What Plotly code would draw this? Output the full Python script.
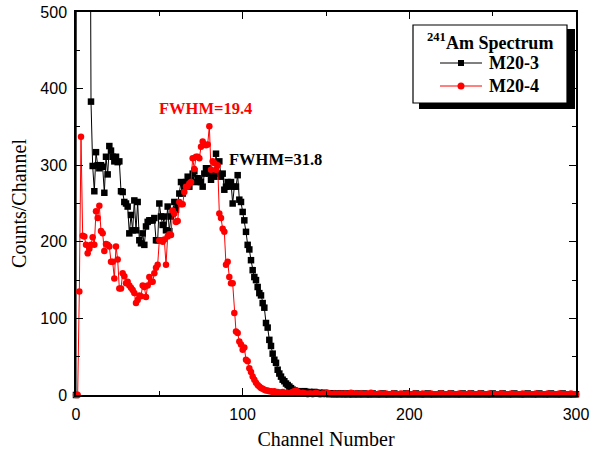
import plotly.graph_objects as go

# ---------------- data ----------------
# M20-3 (black squares), channels 0..135
m20_3_head = [
    0, 3200, 4100, 3900, 3300, 2600, 2000, 1500, 1000, 383,
    299, 266, 317, 300, 296, 300, 298, 264, 311, 288,
    325, 319, 311, 305, 311, 304, 305, 266, 265, 252,
    250, 246, 211, 235, 215, 254, 215, 252, 202, 198,
    211, 196, 220, 226, 228, 228, 228, 231, 202, 202,
    250, 233, 222, 233, 215, 246, 214, 233, 237, 252,
    242, 250, 263, 278, 263, 272, 278, 285, 272, 281,
    289, 292, 278, 283, 281, 278, 272, 289, 296, 296,
    289, 281, 287, 285, 315, 289, 305, 285, 289, 268,
    272, 278, 272, 278, 250, 272, 272, 287, 255, 252,
    239, 228, 213, 196, 190, 176, 163, 154, 150, 141,
    133, 130, 120, 114, 94, 88, 72, 64, 54, 46,
    42, 33, 28, 24, 20, 18, 15, 13, 11, 9,
    7, 6, 5, 5, 4, 4,
]
# M20-3, channels 136..300
m20_3_tail = [
    4, 5, 4, 3, 4, 3, 3, 4, 3, 2, 3, 2, 2, 3, 2, 2, 1, 2, 2, 1,
    1, 2, 1, 2, 1, 1, 2, 1, 1, 2, 1, 1, 1, 2, 1, 1, 1, 2, 1, 1,
    1, 1, 2, 1, 1, 1, 1, 1, 2, 1, 1, 1, 1, 1, 1, 2, 1, 1, 1, 1,
    1, 1, 2, 1, 1, 1, 1, 1, 2, 1, 1, 1, 1, 1, 1, 2, 1, 1, 1, 1,
    1, 1, 1, 2, 1, 1, 1, 1, 1, 2, 1, 1, 1, 1, 1, 1, 2, 1, 1, 1,
    1, 2, 1, 1, 1, 1, 1, 2, 1, 1, 1, 1, 1, 1, 2, 1, 1, 1, 1, 1,
    2, 1, 1, 1, 1, 1, 1, 2, 1, 1, 1, 1, 1, 1, 1, 2, 1, 1, 1, 1,
    1, 1, 2, 1, 1, 1, 1, 1, 1, 2, 1, 1, 1, 1, 1, 1, 2, 1, 1, 1,
    1, 1, 1, 1, 1,
]
# M20-4 (red circles), channels 0..120
m20_4_head = [
    0, 0, 135, 337, 208, 207, 196, 185, 191, 196,
    206, 196, 240, 231, 247, 214, 211, 188, 197, 196,
    194, 174, 174, 152, 194, 177, 139, 139, 159, 155,
    146, 148, 143, 140, 137, 133, 120, 124, 130, 129,
    143, 141, 128, 143, 154, 148, 148, 159, 166, 170,
    202, 202, 200, 203, 170, 207, 210, 209, 241, 237,
    226, 227, 252, 249, 249, 265, 272, 272, 276, 278,
    309, 295, 311, 311, 309, 324, 331, 327, 326, 327,
    351, 294, 305, 303, 294, 300, 237, 231, 217, 213,
    170, 174, 154, 146, 146, 107, 83, 81, 70, 66,
    59, 62, 46, 44, 35, 30, 24, 20, 16, 13,
    11, 9, 8, 7, 6, 6, 5, 5, 4, 5,
    3,
]
# M20-4, channels 121..300
m20_4_tail = [
    4, 3, 3, 4, 2, 3, 2, 2, 3, 4, 5, 6, 4, 3, 2, 3, 2, 2, 1, 2,
    2, 1, 2, 3, 2, 1, 1, 2, 1, 2, 3, 2, 1, 1, 2, 1, 1, 2, 1, 1,
    2, 1, 1, 2, 3, 1, 1, 2, 1, 1, 2, 1, 1, 1, 2, 1, 3, 1, 1, 1,
    1, 2, 1, 1, 1, 2, 1, 1, 1, 2, 1, 1, 1, 1, 2, 1, 1, 1, 2, 1,
    1, 1, 2, 1, 1, 1, 1, 2, 1, 1, 1, 1, 2, 1, 1, 1, 1, 1, 2, 1,
    1, 1, 1, 2, 1, 1, 1, 1, 1, 2, 1, 1, 1, 1, 1, 2, 1, 1, 1, 1,
    1, 2, 1, 1, 1, 1, 1, 2, 1, 1, 1, 1, 1, 1, 2, 1, 1, 1, 1, 1,
    2, 1, 1, 1, 1, 1, 1, 2, 1, 1, 1, 1, 1, 1, 1, 2, 1, 1, 1, 1,
    1, 1, 2, 1, 1, 1, 1, 1, 1, 2, 1, 1, 1, 1, 1, 1, 2, 1, 1, 1,
]

m20_3 = m20_3_head + m20_3_tail
m20_4 = m20_4_head + m20_4_tail
ch_3 = list(range(len(m20_3)))
ch_4 = list(range(len(m20_4)))

x_ticks = [0, 100, 200, 300]
y_ticks = [0, 100, 200, 300, 400, 500]

series_names = ["M20-3", "M20-4"]
legend_title = "<sup>241</sup>Am Spectrum"
fwhm_labels = ["FWHM=19.4", "FWHM=31.8"]

# ---------------- figure ----------------
SERIF = "Liberation Serif, Times New Roman, serif"
SANS = "Liberation Sans, Arial, sans-serif"

fig = go.Figure()
fig.add_trace(go.Scatter(
    x=ch_3, y=m20_3, mode="lines+markers", name=series_names[0],
    line=dict(color="black", width=1),
    marker=dict(symbol="square", size=6.5, color="black"),
    cliponaxis=False, showlegend=False))
fig.add_trace(go.Scatter(
    x=ch_4, y=m20_4, mode="lines+markers", name=series_names[1],
    line=dict(color="#ff0000", width=1),
    marker=dict(symbol="circle", size=6.5, color="#ff0000"),
    cliponaxis=False, showlegend=False))

axis_common = dict(
    showline=True, linecolor="black", linewidth=1.5, mirror="allticks",
    ticks="inside", ticklen=7, tickwidth=1.2, tickcolor="black",
    showgrid=False, zeroline=False, automargin=False,
    tickfont=dict(family=SANS, size=16, color="black"),
    minor=dict(ticks="inside", ticklen=4, tickwidth=1.2, tickcolor="black"),
)

fig.update_xaxes(range=[0, 300], tickvals=x_ticks, minor_dtick=50, ticklabelstandoff=4,
                 title=dict(text="Channel Number", font=dict(family=SERIF, size=20, color="black"),
                            standoff=10),
                 **axis_common)
fig.update_yaxes(range=[0, 500], tickvals=y_ticks, minor_dtick=50, ticklabelstandoff=4,
                 title=dict(text="Counts/Channel", font=dict(family=SERIF, size=20, color="black"),
                            standoff=8),
                 **axis_common)

W, H = 592, 450
L, R, T, B = 76, 16, 12, 55
pw, ph = W - L - R, H - T - B


def px(x):
    return (x - L) / pw


def py(y):
    return (H - B - y) / ph


shapes = []
# legend shadow + box
shapes.append(dict(type="rect", xref="paper", yref="paper",
                   x0=px(419), x1=px(575), y0=py(109), y1=py(29),
                   fillcolor="black", line=dict(width=0), layer="above"))
shapes.append(dict(type="rect", xref="paper", yref="paper",
                   x0=px(413), x1=px(567), y0=py(103), y1=py(25),
                   fillcolor="white", line=dict(color="black", width=1.2), layer="above"))
# legend sample lines
shapes.append(dict(type="line", xref="paper", yref="paper",
                   x0=px(440), x1=px(482), y0=py(63), y1=py(63),
                   line=dict(color="black", width=1), layer="above"))
shapes.append(dict(type="line", xref="paper", yref="paper",
                   x0=px(440), x1=px(482), y0=py(86), y1=py(86),
                   line=dict(color="#ff0000", width=1), layer="above"))
# legend sample markers
shapes.append(dict(type="rect", xref="paper", yref="paper",
                   x0=px(458), x1=px(464), y0=py(66), y1=py(60),
                   fillcolor="black", line=dict(width=0), layer="above"))
shapes.append(dict(type="circle", xref="paper", yref="paper",
                   x0=px(457.5), x1=px(464.5), y0=py(89.5), y1=py(82.5),
                   fillcolor="#ff0000", line=dict(width=0), layer="above"))

annotations = [
    dict(text="<b>" + legend_title + "</b>", xref="paper", yref="paper",
         x=px(490), y=py(42), xanchor="center", yanchor="middle", showarrow=False,
         font=dict(family=SERIF, size=18, color="black")),
    dict(text="<b>" + series_names[0] + "</b>", xref="paper", yref="paper",
         x=px(487), y=py(63), xanchor="left", yanchor="middle", showarrow=False,
         font=dict(family=SERIF, size=18, color="black")),
    dict(text="<b>" + series_names[1] + "</b>", xref="paper", yref="paper",
         x=px(487), y=py(86), xanchor="left", yanchor="middle", showarrow=False,
         font=dict(family=SERIF, size=18, color="black")),
    dict(text="<b>" + fwhm_labels[0] + "</b>", xref="paper", yref="paper",
         x=px(205), y=py(108), xanchor="center", yanchor="middle", showarrow=False,
         font=dict(family=SERIF, size=16.5, color="#ff0000")),
    dict(text="<b>" + fwhm_labels[1] + "</b>", xref="paper", yref="paper",
         x=px(227), y=py(159), xanchor="left", yanchor="middle", showarrow=False,
         font=dict(family=SERIF, size=16.5, color="black")),
]

fig.update_layout(
    width=W, height=H,
    margin=dict(l=L, r=R, t=T, b=B, pad=0),
    paper_bgcolor="white", plot_bgcolor="white",
    shapes=shapes, annotations=annotations,
    showlegend=False,
)

fig.write_html("out.html", config={"displayModeBar": False},
               post_script="document.body.style.margin='0px';")
